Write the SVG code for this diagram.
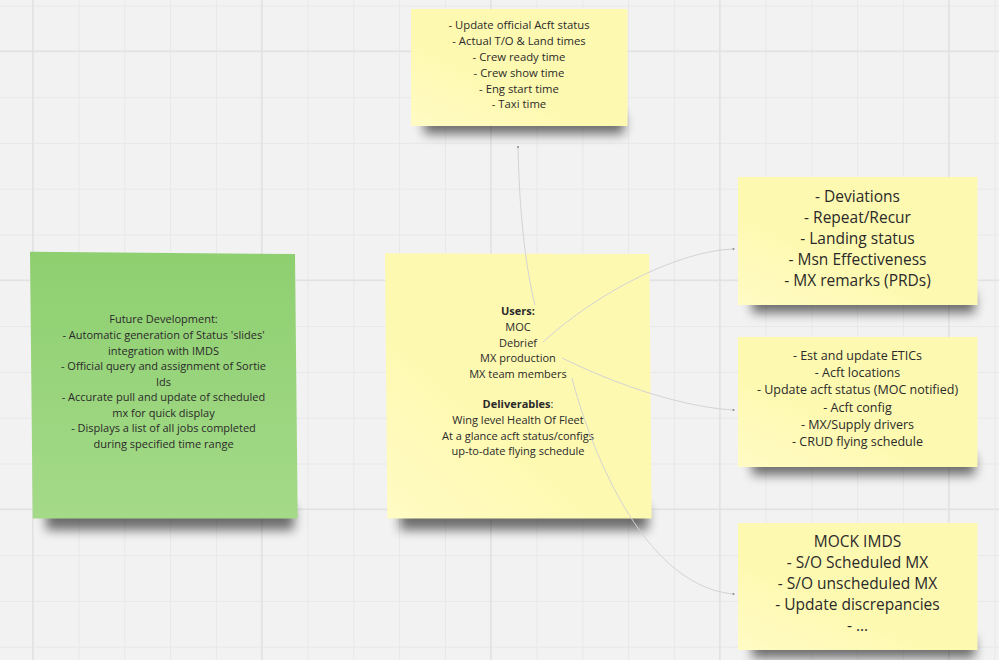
<svg xmlns="http://www.w3.org/2000/svg" width="999" height="660" viewBox="0 0 999 660">
  <defs>
    <pattern id="grid" x="32.7" y="5.5" width="45.8" height="45.8" patternUnits="userSpaceOnUse">
      <path d="M0.5 0V45.8M0 0.5H45.8" stroke="#e8e8e8" stroke-width="1" fill="none"/>
    </pattern>
    <filter id="shadowBlur" x="-20%" y="-100%" width="140%" height="300%">
      <feGaussianBlur stdDeviation="5.5"/>
    </filter>
    <linearGradient id="greenFill" x1="0" y1="0" x2="0" y2="1">
      <stop offset="0" stop-color="#8ecf70"/>
      <stop offset="1" stop-color="#a4da88"/>
    </linearGradient>
    <linearGradient id="yellowFill" x1="0" y1="1" x2="0.35" y2="0.6">
      <stop offset="0" stop-color="#fffbc4"/>
      <stop offset="1" stop-color="#fef9b1"/>
    </linearGradient>
  </defs>
  <style>
    .note-y { fill: url(#yellowFill); }
    .note-g { fill: url(#greenFill); }
    .shadow { fill: #000; opacity: 0.55; filter: url(#shadowBlur); }
    text { font-family: "Open Sans", "Noto Sans", "Liberation Sans", sans-serif; fill: #2a2a2a; text-anchor: middle; }
    .s11 { font-size: 11px; }
    .s11t { font-size: 11.3px; }
    .s13 { font-size: 12.5px; }
    .s16 { font-size: 15.5px; }
    .b { font-weight: bold; }
    .conn { fill: none; stroke: #d3d3d3; stroke-width: 1; }
    .end { fill: #8a8a8a; }
  </style>

  <!-- canvas grid -->
  <rect width="999" height="660" fill="#f2f2f2"/>
  <rect width="999" height="660" fill="url(#grid)"/>
  <g stroke="#e2e2e2" stroke-width="1.4">
    <path d="M32.7 0V660M261.7 0V660M490.7 0V660M719.7 0V660M948.7 0V660"/>
    <path d="M0 51.3H999M0 280.3H999M0 509.3H999"/>
  </g>

  <!-- top note -->
  <g id="note-acft-status">
    <rect class="shadow" x="424" y="114" width="200" height="20"/>
    <rect class="note-y" x="411" y="9" width="216.5" height="117"/>
    <text class="s11t" x="519" y="29">- Update official Acft status</text>
    <text class="s11t" x="519" y="45">- Actual T/O &amp; Land times</text>
    <text class="s11t" x="519" y="61">- Crew ready time</text>
    <text class="s11t" x="519" y="77">- Crew show time</text>
    <text class="s11t" x="519" y="92.7">- Eng start time</text>
    <text class="s11t" x="519" y="108.3">- Taxi time</text>
  </g>

  <!-- future development note -->
  <g id="note-future">
    <rect class="shadow" x="46" y="506" width="248" height="24"/>
    <polygon class="note-g" points="30,251.7 295,254 297.7,518.5 32.7,518.5"/>
    <text class="s11" x="163.5" y="323.3">Future Development:</text>
    <text class="s11" x="163.5" y="339">- Automatic generation of Status 'slides'</text>
    <text class="s11" x="163.5" y="354.5">integration with IMDS</text>
    <text class="s11" x="163.5" y="370">- Official query and assignment of Sortie</text>
    <text class="s11" x="163.5" y="385.7">Ids</text>
    <text class="s11" x="163.5" y="401.2">- Accurate pull and update of scheduled</text>
    <text class="s11" x="163.5" y="416.8">mx for quick display</text>
    <text class="s11" x="163.5" y="432.3">- Displays a list of all jobs completed</text>
    <text class="s11" x="163.5" y="447.8">during specified time range</text>
  </g>

  <!-- central note -->
  <g id="note-users">
    <rect class="shadow" x="400" y="506" width="248" height="24"/>
    <polygon class="note-y" points="385,253.3 649.3,254 651.7,518.5 387.3,518.5"/>
    <text class="s11 b" x="518" y="315">Users:</text>
    <text class="s11" x="518" y="331">MOC</text>
    <text class="s11" x="518" y="346.7">Debrief</text>
    <text class="s11" x="518" y="362">MX production</text>
    <text class="s11" x="518" y="377.7">MX team members</text>
    <text class="s11" x="518" y="408.3"><tspan class="b">Deliverables</tspan>:</text>
    <text class="s11" x="518" y="424">Wing level Health Of Fleet</text>
    <text class="s11" x="518" y="439.7">At a glance acft status/configs</text>
    <text class="s11" x="518" y="455.3">up-to-date flying schedule</text>
  </g>

  <!-- right column notes -->
  <g id="note-deviations">
    <rect class="shadow" x="752" y="293" width="223" height="20"/>
    <rect class="note-y" x="738" y="177" width="239.5" height="128"/>
    <text class="s16" x="857.5" y="201.7">- Deviations</text>
    <text class="s16" x="857.5" y="222.8">- Repeat/Recur</text>
    <text class="s16" x="857.5" y="243.9">- Landing status</text>
    <text class="s16" x="857.5" y="265">- Msn Effectiveness</text>
    <text class="s16" x="857.5" y="286">- MX remarks (PRDs)</text>
  </g>

  <g id="note-etics">
    <rect class="shadow" x="752" y="455" width="223" height="20"/>
    <rect class="note-y" x="738" y="337" width="239.5" height="130"/>
    <text class="s13" x="857.5" y="360">- Est and update ETICs</text>
    <text class="s13" x="857.5" y="377.2">- Acft locations</text>
    <text class="s13" x="857.5" y="394.4">- Update acft status (MOC notified)</text>
    <text class="s13" x="857.5" y="411.6">- Acft config</text>
    <text class="s13" x="857.5" y="428.8">- MX/Supply drivers</text>
    <text class="s13" x="857.5" y="446">- CRUD flying schedule</text>
  </g>

  <g id="note-mock-imds">
    <rect class="shadow" x="752" y="638" width="223" height="20"/>
    <rect class="note-y" x="738" y="523" width="239.5" height="127"/>
    <text class="s16" x="857.5" y="546.7">MOCK IMDS</text>
    <text class="s16" x="857.5" y="567.7">- S/O Scheduled MX</text>
    <text class="s16" x="857.5" y="588.7">- S/O unscheduled MX</text>
    <text class="s16" x="857.5" y="609.7">- Update discrepancies</text>
    <text class="s16" x="857.5" y="630.5">- ...</text>
  </g>

  <!-- connectors -->
  <g id="connectors">
    <path class="conn" d="M518 147C519 200 524 262 535 305"/>
    <path class="conn" d="M733 249C680 251 600 290 543 342"/>
    <path class="conn" d="M733 410C700 408 640 396 562 358"/>
    <path class="conn" d="M572 378C588 440 640 585 733 594"/>
    <circle class="end" cx="518" cy="147" r="1"/>
    <circle class="end" cx="733.5" cy="249" r="1"/>
    <circle class="end" cx="733.5" cy="410" r="1"/>
    <circle class="end" cx="733.5" cy="594" r="1"/>
  </g>
</svg>
